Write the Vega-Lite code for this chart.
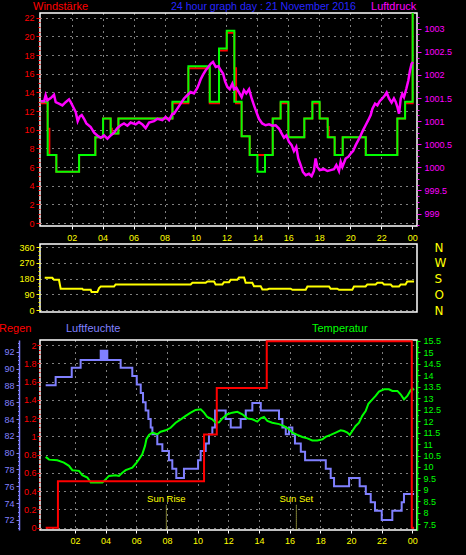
{
  "$schema": "https://vega.github.io/schema/vega-lite/v6.json",
  "background": "black",
  "autosize": {"type": "pad"},
  "padding": {"left": -2, "top": 0, "right": 15, "bottom": 10},
  "spacing": 1,
  "config": {
    "view": {"stroke": "#ffffff", "strokeWidth": 1.5, "fill": "black"},
    "axis": {"labelFont": "Liberation Sans", "labelFontSize": 9, "labelFlush": false, "domain": false},
    "text": {"font": "Liberation Sans"}
  },
  "datasets": {
    "wind": [
      {"h": 0, "kmh": 12.85}, {"h": 0.45, "kmh": 10.1}, {"h": 0.56, "kmh": 7.3}, {"h": 1.01, "kmh": 5.5}, {"h": 2.48, "kmh": 7.3},
      {"h": 3.53, "kmh": 9.2}, {"h": 4.03, "kmh": 11.2}, {"h": 4.52, "kmh": 10.1}, {"h": 4.6, "kmh": 9.6}, {"h": 5.02, "kmh": 11.2},
      {"h": 8.51, "kmh": 12.85}, {"h": 9.54, "kmh": 16.6}, {"h": 10.92, "kmh": 12.85}, {"h": 11.52, "kmh": 18.5}, {"h": 12.02, "kmh": 20.4},
      {"h": 12.51, "kmh": 16.6}, {"h": 12.62, "kmh": 12.85}, {"h": 12.98, "kmh": 9.3}, {"h": 13.5, "kmh": 7.3}, {"h": 14.99, "kmh": 11.2},
      {"h": 15.5, "kmh": 12.85}, {"h": 16.0, "kmh": 9.2}, {"h": 17.03, "kmh": 11.2}, {"h": 17.55, "kmh": 12.85}, {"h": 18.02, "kmh": 11.2},
      {"h": 18.54, "kmh": 10.3}, {"h": 18.6, "kmh": 9.2}, {"h": 18.99, "kmh": 7.3}, {"h": 19.51, "kmh": 9.2}, {"h": 21.0, "kmh": 7.3},
      {"h": 23.04, "kmh": 11.2}, {"h": 23.54, "kmh": 12.85}, {"h": 24.03, "kmh": 23.0}, {"h": 24.31, "kmh": 23.0}
    ],
    "gust": [
      {"h": 0, "kmh": 13.0}, {"h": 0.45, "kmh": 7.3}, {"h": 1.01, "kmh": 5.5}, {"h": 2.48, "kmh": 7.3}, {"h": 3.53, "kmh": 9.2},
      {"h": 4.03, "kmh": 11.2}, {"h": 4.52, "kmh": 9.6}, {"h": 5.02, "kmh": 11.2}, {"h": 8.51, "kmh": 13.0}, {"h": 9.54, "kmh": 16.8},
      {"h": 10.92, "kmh": 13.0}, {"h": 11.52, "kmh": 18.7}, {"h": 12.02, "kmh": 20.6}, {"h": 12.51, "kmh": 13.0}, {"h": 12.98, "kmh": 9.3},
      {"h": 13.5, "kmh": 7.3}, {"h": 14.0, "kmh": 5.5}, {"h": 14.49, "kmh": 7.3}, {"h": 14.99, "kmh": 11.2}, {"h": 15.5, "kmh": 13.0},
      {"h": 16.0, "kmh": 9.2}, {"h": 17.03, "kmh": 11.2}, {"h": 17.55, "kmh": 13.0}, {"h": 18.02, "kmh": 11.2}, {"h": 18.54, "kmh": 9.2},
      {"h": 18.99, "kmh": 7.3}, {"h": 19.51, "kmh": 9.2}, {"h": 21.0, "kmh": 7.3}, {"h": 23.04, "kmh": 11.2}, {"h": 23.54, "kmh": 13.0},
      {"h": 24.03, "kmh": 23.0}, {"h": 24.31, "kmh": 23.0}
    ],
    "pressure": [
      {"h": 0.0, "hpa": 1001.43}, {"h": 0.22, "hpa": 1001.43}, {"h": 0.32, "hpa": 1001.56}, {"h": 0.43, "hpa": 1001.45}, {"h": 0.65, "hpa": 1001.5},
      {"h": 0.86, "hpa": 1001.57}, {"h": 0.97, "hpa": 1001.41}, {"h": 1.18, "hpa": 1001.38}, {"h": 1.4, "hpa": 1001.34}, {"h": 1.61, "hpa": 1001.41},
      {"h": 1.83, "hpa": 1001.47}, {"h": 1.94, "hpa": 1001.41}, {"h": 2.09, "hpa": 1001.31}, {"h": 2.26, "hpa": 1001.2}, {"h": 2.39, "hpa": 1001.0},
      {"h": 2.52, "hpa": 1001.1}, {"h": 2.65, "hpa": 1001.13}, {"h": 2.8, "hpa": 1001.05}, {"h": 2.95, "hpa": 1000.95}, {"h": 3.23, "hpa": 1000.87},
      {"h": 3.45, "hpa": 1000.75}, {"h": 3.66, "hpa": 1000.69}, {"h": 3.88, "hpa": 1000.64}, {"h": 4.09, "hpa": 1000.69}, {"h": 4.31, "hpa": 1000.62},
      {"h": 4.52, "hpa": 1000.69}, {"h": 4.74, "hpa": 1000.75}, {"h": 4.95, "hpa": 1000.85}, {"h": 5.17, "hpa": 1000.91}, {"h": 5.38, "hpa": 1000.95},
      {"h": 5.6, "hpa": 1000.9}, {"h": 5.81, "hpa": 1000.97}, {"h": 6.14, "hpa": 1000.93}, {"h": 6.35, "hpa": 1000.98}, {"h": 6.57, "hpa": 1000.93},
      {"h": 6.78, "hpa": 1000.85}, {"h": 7.0, "hpa": 1000.97}, {"h": 7.32, "hpa": 1001.0}, {"h": 7.54, "hpa": 1001.05}, {"h": 7.86, "hpa": 1001.02},
      {"h": 8.07, "hpa": 1001.09}, {"h": 8.29, "hpa": 1001.02}, {"h": 8.51, "hpa": 1001.16}, {"h": 8.61, "hpa": 1001.16}, {"h": 8.83, "hpa": 1001.27},
      {"h": 9.04, "hpa": 1001.38}, {"h": 9.26, "hpa": 1001.49}, {"h": 9.47, "hpa": 1001.56}, {"h": 9.69, "hpa": 1001.63}, {"h": 9.9, "hpa": 1001.6},
      {"h": 10.12, "hpa": 1001.72}, {"h": 10.23, "hpa": 1001.81}, {"h": 10.33, "hpa": 1001.9}, {"h": 10.48, "hpa": 1002.0}, {"h": 10.66, "hpa": 1002.1},
      {"h": 10.83, "hpa": 1002.17}, {"h": 10.98, "hpa": 1002.24}, {"h": 11.13, "hpa": 1002.28}, {"h": 11.31, "hpa": 1002.17}, {"h": 11.48, "hpa": 1002.19},
      {"h": 11.63, "hpa": 1002.1}, {"h": 11.78, "hpa": 1002.03}, {"h": 11.91, "hpa": 1001.86}, {"h": 12.06, "hpa": 1001.74}, {"h": 12.21, "hpa": 1001.69},
      {"h": 12.38, "hpa": 1001.81}, {"h": 12.49, "hpa": 1001.69}, {"h": 12.64, "hpa": 1001.72}, {"h": 12.81, "hpa": 1001.62}, {"h": 12.98, "hpa": 1001.52},
      {"h": 13.13, "hpa": 1001.67}, {"h": 13.28, "hpa": 1001.6}, {"h": 13.46, "hpa": 1001.69}, {"h": 13.63, "hpa": 1001.49}, {"h": 13.78, "hpa": 1001.34},
      {"h": 13.93, "hpa": 1001.2}, {"h": 14.1, "hpa": 1001.05}, {"h": 14.31, "hpa": 1000.95}, {"h": 14.53, "hpa": 1000.91}, {"h": 14.75, "hpa": 1000.93},
      {"h": 14.96, "hpa": 1000.9}, {"h": 15.18, "hpa": 1000.91}, {"h": 15.39, "hpa": 1000.84}, {"h": 15.57, "hpa": 1000.73}, {"h": 15.72, "hpa": 1000.64},
      {"h": 15.87, "hpa": 1000.69}, {"h": 16.04, "hpa": 1000.55}, {"h": 16.21, "hpa": 1000.48}, {"h": 16.36, "hpa": 1000.35}, {"h": 16.51, "hpa": 1000.44},
      {"h": 16.64, "hpa": 1000.19}, {"h": 16.79, "hpa": 1000.05}, {"h": 16.94, "hpa": 999.9}, {"h": 17.12, "hpa": 999.83}, {"h": 17.33, "hpa": 999.86},
      {"h": 17.5, "hpa": 999.81}, {"h": 17.65, "hpa": 999.92}, {"h": 17.76, "hpa": 1000.19}, {"h": 17.87, "hpa": 1000.01}, {"h": 18.02, "hpa": 999.94},
      {"h": 18.3, "hpa": 999.96}, {"h": 18.52, "hpa": 999.92}, {"h": 18.73, "hpa": 999.94}, {"h": 18.95, "hpa": 999.96}, {"h": 19.1, "hpa": 1000.05},
      {"h": 19.27, "hpa": 999.92}, {"h": 19.38, "hpa": 1000.12}, {"h": 19.49, "hpa": 1000.01}, {"h": 19.7, "hpa": 1000.19}, {"h": 19.88, "hpa": 1000.23},
      {"h": 20.03, "hpa": 1000.3}, {"h": 20.18, "hpa": 1000.35}, {"h": 20.35, "hpa": 1000.48}, {"h": 20.52, "hpa": 1000.59}, {"h": 20.67, "hpa": 1000.69},
      {"h": 20.82, "hpa": 1000.8}, {"h": 20.99, "hpa": 1000.91}, {"h": 21.16, "hpa": 1001.02}, {"h": 21.32, "hpa": 1001.13}, {"h": 21.43, "hpa": 1001.27},
      {"h": 21.6, "hpa": 1001.38}, {"h": 21.75, "hpa": 1001.34}, {"h": 21.9, "hpa": 1001.43}, {"h": 22.07, "hpa": 1001.49}, {"h": 22.24, "hpa": 1001.56},
      {"h": 22.35, "hpa": 1001.62}, {"h": 22.5, "hpa": 1001.49}, {"h": 22.67, "hpa": 1001.4}, {"h": 22.82, "hpa": 1001.49}, {"h": 22.93, "hpa": 1001.42},
      {"h": 23.04, "hpa": 1001.31}, {"h": 23.15, "hpa": 1001.16}, {"h": 23.26, "hpa": 1001.49}, {"h": 23.36, "hpa": 1001.59}, {"h": 23.47, "hpa": 1001.52},
      {"h": 23.62, "hpa": 1001.7}, {"h": 23.75, "hpa": 1001.88}, {"h": 23.86, "hpa": 1002.1}, {"h": 23.96, "hpa": 1002.24}, {"h": 24.05, "hpa": 1002.28}
    ],
    "direction": [
      {"h": 0.26, "deg": 185}, {"h": 0.75, "deg": 185}, {"h": 0.86, "deg": 173}, {"h": 1.18, "deg": 173}, {"h": 1.29, "deg": 122},
      {"h": 2.69, "deg": 122}, {"h": 2.75, "deg": 116}, {"h": 3.23, "deg": 116}, {"h": 3.29, "deg": 103}, {"h": 3.66, "deg": 103},
      {"h": 3.77, "deg": 126}, {"h": 3.88, "deg": 135}, {"h": 4.74, "deg": 135}, {"h": 4.84, "deg": 147}, {"h": 9.69, "deg": 147},
      {"h": 9.8, "deg": 156}, {"h": 10.66, "deg": 156}, {"h": 10.77, "deg": 164}, {"h": 11.2, "deg": 164}, {"h": 11.3, "deg": 147},
      {"h": 11.74, "deg": 147}, {"h": 11.84, "deg": 160}, {"h": 12.17, "deg": 160}, {"h": 12.27, "deg": 173}, {"h": 12.7, "deg": 173},
      {"h": 12.81, "deg": 187}, {"h": 13.14, "deg": 187}, {"h": 13.24, "deg": 156}, {"h": 13.67, "deg": 156}, {"h": 13.78, "deg": 137},
      {"h": 14.21, "deg": 137}, {"h": 14.32, "deg": 118}, {"h": 14.64, "deg": 118}, {"h": 14.75, "deg": 122}, {"h": 16.15, "deg": 122},
      {"h": 16.26, "deg": 116}, {"h": 17.12, "deg": 116}, {"h": 17.23, "deg": 135}, {"h": 18.63, "deg": 135}, {"h": 18.73, "deg": 122},
      {"h": 19.16, "deg": 122}, {"h": 19.27, "deg": 116}, {"h": 20.13, "deg": 116}, {"h": 20.24, "deg": 135}, {"h": 20.99, "deg": 135},
      {"h": 21.1, "deg": 147}, {"h": 21.64, "deg": 147}, {"h": 21.75, "deg": 156}, {"h": 22.07, "deg": 156}, {"h": 22.18, "deg": 147},
      {"h": 22.61, "deg": 147}, {"h": 22.72, "deg": 135}, {"h": 23.15, "deg": 135}, {"h": 23.26, "deg": 147}, {"h": 23.57, "deg": 147},
      {"h": 23.68, "deg": 164}, {"h": 24.12, "deg": 164}
    ],
    "rain": [
      {"h": 0.09, "mm": 0}, {"h": 0.89, "mm": 0.51}, {"h": 10.42, "mm": 1.02}, {"h": 11.25, "mm": 1.53}, {"h": 14.51, "mm": 2.04},
      {"h": 23.97, "mm": 0}, {"h": 24.12, "mm": 0}
    ],
    "humidity": [
      {"h": 0.09, "rh": 88.0}, {"h": 0.74, "rh": 89.0}, {"h": 1.79, "rh": 90.1}, {"h": 2.37, "rh": 91.0}, {"h": 3.68, "rh": 92.1},
      {"h": 3.75, "rh": 91.0}, {"h": 3.8, "rh": 92.1}, {"h": 3.87, "rh": 91.0}, {"h": 3.93, "rh": 92.1}, {"h": 4.0, "rh": 91.0},
      {"h": 4.05, "rh": 92.1}, {"h": 4.11, "rh": 91.0}, {"h": 4.98, "rh": 90.1}, {"h": 5.74, "rh": 89.1}, {"h": 6.03, "rh": 88.1},
      {"h": 6.29, "rh": 87.1}, {"h": 6.44, "rh": 86.0}, {"h": 6.61, "rh": 85.0}, {"h": 6.79, "rh": 84.0}, {"h": 6.94, "rh": 83.0},
      {"h": 7.05, "rh": 82.2}, {"h": 7.37, "rh": 81.0}, {"h": 7.7, "rh": 80.2}, {"h": 8.13, "rh": 79.1}, {"h": 8.35, "rh": 78.1},
      {"h": 8.61, "rh": 77.0}, {"h": 9.11, "rh": 78.1}, {"h": 10.03, "rh": 79.1}, {"h": 10.2, "rh": 80.2}, {"h": 10.53, "rh": 81.1},
      {"h": 10.74, "rh": 82.2}, {"h": 10.96, "rh": 83.0}, {"h": 11.14, "rh": 85.0}, {"h": 11.83, "rh": 84.0}, {"h": 12.16, "rh": 83.0},
      {"h": 12.81, "rh": 84.0}, {"h": 13.14, "rh": 85.0}, {"h": 13.57, "rh": 85.9}, {"h": 14.12, "rh": 85.0}, {"h": 15.31, "rh": 84.0},
      {"h": 15.53, "rh": 83.0}, {"h": 15.75, "rh": 82.2}, {"h": 15.96, "rh": 83.0}, {"h": 16.18, "rh": 82.2}, {"h": 16.35, "rh": 81.1},
      {"h": 16.73, "rh": 80.1}, {"h": 17.01, "rh": 79.1}, {"h": 18.36, "rh": 78.1}, {"h": 18.68, "rh": 77.0}, {"h": 18.9, "rh": 76.0},
      {"h": 19.88, "rh": 77.0}, {"h": 20.57, "rh": 76.0}, {"h": 20.97, "rh": 75.1}, {"h": 21.29, "rh": 74.1}, {"h": 21.57, "rh": 73.1},
      {"h": 22.01, "rh": 72.0}, {"h": 22.7, "rh": 73.1}, {"h": 23.31, "rh": 74.1}, {"h": 23.46, "rh": 75.1}, {"h": 24.12, "rh": 75.1}
    ],
    "temperature": [
      {"h": 0.09, "c": 10.44}, {"h": 0.31, "c": 10.32}, {"h": 0.85, "c": 10.29}, {"h": 1.28, "c": 10.19}, {"h": 1.61, "c": 10.05},
      {"h": 1.83, "c": 9.86}, {"h": 2.26, "c": 9.83}, {"h": 2.48, "c": 9.64}, {"h": 2.81, "c": 9.54}, {"h": 3.03, "c": 9.32},
      {"h": 3.35, "c": 9.32}, {"h": 3.79, "c": 9.32}, {"h": 4.0, "c": 9.46}, {"h": 4.22, "c": 9.61}, {"h": 4.65, "c": 9.64},
      {"h": 4.87, "c": 9.61}, {"h": 5.09, "c": 9.75}, {"h": 5.31, "c": 9.86}, {"h": 5.74, "c": 9.97}, {"h": 5.96, "c": 10.14},
      {"h": 6.18, "c": 10.34}, {"h": 6.39, "c": 10.55}, {"h": 6.57, "c": 10.92}, {"h": 6.66, "c": 11.21}, {"h": 6.83, "c": 11.4},
      {"h": 7.05, "c": 11.5}, {"h": 7.37, "c": 11.43}, {"h": 7.59, "c": 11.54}, {"h": 7.92, "c": 11.6}, {"h": 8.24, "c": 11.71},
      {"h": 8.57, "c": 11.93}, {"h": 8.9, "c": 12.08}, {"h": 9.22, "c": 12.23}, {"h": 9.55, "c": 12.37}, {"h": 9.87, "c": 12.49},
      {"h": 10.2, "c": 12.52}, {"h": 10.42, "c": 12.37}, {"h": 10.63, "c": 12.18}, {"h": 10.96, "c": 12.08}, {"h": 11.18, "c": 11.93},
      {"h": 11.4, "c": 11.95}, {"h": 11.61, "c": 12.12}, {"h": 11.94, "c": 12.3}, {"h": 12.26, "c": 12.37}, {"h": 12.59, "c": 12.41},
      {"h": 12.92, "c": 12.3}, {"h": 13.24, "c": 12.12}, {"h": 13.57, "c": 12.08}, {"h": 13.9, "c": 11.98}, {"h": 14.11, "c": 12.12},
      {"h": 14.33, "c": 12.18}, {"h": 14.55, "c": 12.01}, {"h": 14.87, "c": 11.93}, {"h": 15.31, "c": 11.87}, {"h": 15.64, "c": 11.78},
      {"h": 15.96, "c": 11.65}, {"h": 16.18, "c": 11.5}, {"h": 16.51, "c": 11.4}, {"h": 16.83, "c": 11.31}, {"h": 17.16, "c": 11.25},
      {"h": 17.48, "c": 11.16}, {"h": 17.81, "c": 11.16}, {"h": 18.14, "c": 11.21}, {"h": 18.35, "c": 11.31}, {"h": 18.68, "c": 11.4},
      {"h": 19.01, "c": 11.5}, {"h": 19.33, "c": 11.6}, {"h": 19.55, "c": 11.57}, {"h": 19.77, "c": 11.5}, {"h": 19.92, "c": 11.4},
      {"h": 20.09, "c": 11.57}, {"h": 20.31, "c": 11.79}, {"h": 20.53, "c": 11.93}, {"h": 20.74, "c": 12.23}, {"h": 20.96, "c": 12.44},
      {"h": 21.14, "c": 12.76}, {"h": 21.4, "c": 12.95}, {"h": 21.61, "c": 13.1}, {"h": 21.83, "c": 13.29}, {"h": 22.16, "c": 13.39},
      {"h": 22.48, "c": 13.39}, {"h": 22.7, "c": 13.32}, {"h": 23.03, "c": 13.32}, {"h": 23.24, "c": 13.17}, {"h": 23.46, "c": 12.95},
      {"h": 23.68, "c": 13.1}, {"h": 23.9, "c": 13.35}, {"h": 24.01, "c": 13.43}, {"h": 24.11, "c": 13.35}
    ],
    "sun": [
      {"event": "Sun Rise", "h": 7.96},
      {"event": "Sun Set", "h": 16.44}
    ]
  },
  "vconcat": [
    {
      "width": 377,
      "height": 213,
      "layer": [
        {
          "layer": [
            {
              "data": {"name": "wind"},
              "mark": {"type": "line", "interpolate": "step-after", "color": "#ff0000", "strokeWidth": 2, "clip": true},
              "encoding": {
                "x": {
                  "field": "h", "type": "quantitative",
                  "scale": {"domain": [-0.045, 24.31], "nice": false, "zero": false},
                  "axis": {
                    "orient": "bottom", "title": null, "values": [2, 4, 6, 8, 10, 12, 14, 16, 18, 20, 22, 24], "tickCount": 1000,
                    "labels": false, "ticks": true, "tickSize": 3, "tickColor": "#ffffff", "labelOverlap": false,
                    "grid": true, "gridColor": "#ffffff", "gridDash": [1, 5],
                    "gridOpacity": {"condition": {"test": "datum.value > 23", "value": 0}, "value": 1}
                  }
                },
                "y": {
                  "field": "kmh", "type": "quantitative",
                  "scale": {"domain": [-0.32, 22.51], "nice": false, "zero": false},
                  "axis": {
                    "orient": "left", "title": null, "labelOverlap": false, "tickCount": 1000,
                    "values": [0,0.5,1,1.5,2,2.5,3,3.5,4,4.5,5,5.5,6,6.5,7,7.5,8,8.5,9,9.5,10,10.5,11,11.5,12,12.5,13,13.5,14,14.5,15,15.5,16,16.5,17,17.5,18,18.5,19,19.5,20,20.5,21,21.5,22],
                    "labelExpr": "datum.value % 2 === 0 ? format(datum.value, 'd') : ''",
                    "labelColor": "#ff0000", "tickColor": "#ff0000", "labelPadding": 2,
                    "tickSize": {"condition": {"test": "datum.value % 2 === 0", "value": 4}, "value": 2},
                    "grid": true, "gridColor": "#ffffff", "gridDash": [1, 5],
                    "gridOpacity": {"condition": {"test": "datum.value % 2 === 0", "value": 1}, "value": 0}
                  }
                }
              }
            },
            {
              "data": {"name": "gust"},
              "mark": {"type": "line", "interpolate": "step-after", "color": "#00ff00", "strokeWidth": 2, "clip": true},
              "encoding": {
                "x": {"field": "h", "type": "quantitative"},
                "y": {"field": "kmh", "type": "quantitative"}
              }
            },
            {
              "data": {"values": [{}]},
              "mark": {"type": "text", "text": "Windstärke", "align": "left", "baseline": "middle", "color": "#ff0000", "fontSize": 11},
              "encoding": {"x": {"datum": -0.497}, "y": {"datum": 23.1}}
            },
            {
              "data": {"values": [{}]},
              "mark": {"type": "text", "text": "24 hour graph day : 21 November 2016", "align": "center", "baseline": "middle", "color": "#2626ff", "fontSize": 10.6},
              "encoding": {"x": {"datum": 14.39}, "y": {"datum": 23.1}}
            },
            {
              "data": {"values": [{}]},
              "mark": {"type": "text", "text": "Luftdruck", "align": "left", "baseline": "middle", "color": "#ff00ff", "fontSize": 11},
              "encoding": {"x": {"datum": 21.34}, "y": {"datum": 23.1}}
            }
          ]
        },
        {
          "data": {"name": "pressure"},
          "mark": {"type": "line", "color": "#ff00ff", "strokeWidth": 2.5, "clip": true},
          "encoding": {
            "x": {"field": "h", "type": "quantitative"},
            "y": {
              "field": "hpa", "type": "quantitative",
              "scale": {"domain": [998.73, 1003.34], "nice": false, "zero": false},
              "axis": {
                "orient": "right", "title": null, "labelOverlap": false, "tickCount": 1000,
                "values": [998.75,998.875,999,999.125,999.25,999.375,999.5,999.625,999.75,999.875,1000,1000.125,1000.25,1000.375,1000.5,1000.625,1000.75,1000.875,1001,1001.125,1001.25,1001.375,1001.5,1001.625,1001.75,1001.875,1002,1002.125,1002.25,1002.375,1002.5,1002.625,1002.75,1002.875,1003,1003.125,1003.25],
                "labelExpr": "datum.value * 2 % 1 === 0 ? format(datum.value, '~g') : ''",
                "labelColor": "#ff00ff", "tickColor": "#ff00ff", "labelPadding": 3,
                "tickSize": {"condition": {"test": "datum.value * 2 % 1 === 0", "value": 4}, "value": 2},
                "grid": false
              }
            }
          }
        }
      ],
      "resolve": {"scale": {"y": "independent"}, "axis": {"y": "independent"}}
    },
    {
      "width": 377,
      "height": 68,
      "layer": [
        {
          "data": {"name": "direction"},
          "mark": {"type": "line", "color": "#ffff00", "strokeWidth": 2, "clip": true},
          "encoding": {
            "x": {
              "field": "h", "type": "quantitative",
              "scale": {"domain": [-0.045, 24.31], "nice": false, "zero": false},
              "axis": {
                "orient": "top", "title": null, "values": [2, 4, 6, 8, 10, 12, 14, 16, 18, 20, 22, 24], "labelOverlap": false, "tickCount": 1000,
                "labelExpr": "datum.value == 24 ? '00' : (datum.value < 10 ? '0' + datum.value : '' + datum.value)",
                "labelColor": "#ffff00", "ticks": false, "tickSize": 0, "labelPadding": 2, "grid": false
              }
            },
            "y": {
              "field": "deg", "type": "quantitative",
              "scale": {"domain": [-11.4, 378.9], "nice": false, "zero": false},
              "axis": {
                "orient": "left", "title": null, "labelOverlap": false, "tickCount": 1000,
                "values": [0,22.5,45,67.5,90,112.5,135,157.5,180,202.5,225,247.5,270,292.5,315,337.5,360],
                "labelExpr": "datum.value % 90 === 0 ? format(datum.value, 'd') : ''",
                "labelColor": "#ffff00", "tickColor": "#ffff00", "labelPadding": 2,
                "tickSize": {"condition": {"test": "datum.value % 90 === 0", "value": 4}, "value": 2},
                "grid": true, "gridColor": "#ffffff", "gridDash": [1, 5],
                "gridOpacity": {"condition": {"test": "datum.value % 90 === 0", "value": 1}, "value": 0}
              }
            }
          }
        },
        {
          "data": {"name": "direction"},
          "mark": {"type": "line", "strokeOpacity": 0, "clip": true},
          "encoding": {
            "x": {"field": "h", "type": "quantitative"},
            "y": {
              "field": "deg", "type": "quantitative",
              "axis": {
                "orient": "right", "title": null, "values": [0, 90, 180, 270, 360], "labelOverlap": false, "tickCount": 1000,
                "labelExpr": "datum.value == 0 ? 'N' : datum.value == 90 ? 'O' : datum.value == 180 ? 'S' : datum.value == 270 ? 'W' : 'N'",
                "labelColor": "#ffff00", "labelFontSize": 12, "labelFont": "DejaVu Sans", "ticks": false, "tickSize": 0, "labelPadding": 17, "grid": false
              }
            }
          }
        },
        {
          "data": {"values": [{}]},
          "mark": {"type": "text", "text": "Regen", "align": "left", "baseline": "middle", "color": "#ff0000", "fontSize": 11},
          "encoding": {"x": {"datum": -2.69}, "y": {"datum": -109, "axis": null}}
        },
        {
          "data": {"values": [{}]},
          "mark": {"type": "text", "text": "Luftfeuchte", "align": "left", "baseline": "middle", "color": "#8080ff", "fontSize": 11},
          "encoding": {"x": {"datum": 1.635}, "y": {"datum": -109, "axis": null}}
        },
        {
          "data": {"values": [{}]},
          "mark": {"type": "text", "text": "Temperatur", "align": "left", "baseline": "middle", "color": "#00ff00", "fontSize": 11},
          "encoding": {"x": {"datum": 17.526}, "y": {"datum": -109, "axis": null}}
        }
      ],
      "resolve": {"axis": {"y": "independent"}}
    },
    {
      "width": 377,
      "height": 190,
      "layer": [
        {
          "data": {"name": "humidity"},
          "mark": {"type": "line", "interpolate": "step-after", "color": "#8080ff", "strokeWidth": 2, "clip": true},
          "encoding": {
            "x": {
              "field": "h", "type": "quantitative",
              "scale": {"domain": [-0.28, 24.31], "nice": false, "zero": false},
              "axis": {
                "orient": "bottom", "title": null, "values": [2, 4, 6, 8, 10, 12, 14, 16, 18, 20, 22, 24], "labelOverlap": false, "tickCount": 1000,
                "labelExpr": "datum.value == 24 ? '00' : (datum.value < 10 ? '0' + datum.value : '' + datum.value)",
                "labelColor": "#ffff00", "tickColor": "#ffffff", "tickSize": 3, "labelPadding": 3,
                "grid": true, "gridColor": "#ffffff", "gridDash": [1, 5],
                "gridOpacity": {"condition": {"test": "datum.value > 23", "value": 0}, "value": 1}
              }
            },
            "y": {
              "field": "rh", "type": "quantitative",
              "scale": {"domain": [70.81, 93.39], "nice": false, "zero": false},
              "axis": {
                "orient": "left", "title": null, "offset": 21, "labelOverlap": false, "tickCount": 1000,
                "values": [71,71.5,72,72.5,73,73.5,74,74.5,75,75.5,76,76.5,77,77.5,78,78.5,79,79.5,80,80.5,81,81.5,82,82.5,83,83.5,84,84.5,85,85.5,86,86.5,87,87.5,88,88.5,89,89.5,90,90.5,91,91.5,92,92.5,93],
                "labelExpr": "datum.value % 2 === 0 ? format(datum.value, 'd') : ''",
                "labelColor": "#8080ff", "tickColor": "#8080ff", "labelPadding": 2,
                "tickSize": {"condition": {"test": "datum.value % 2 === 0", "value": 3}, "value": 1.5},
                "domain": true, "domainColor": "#8080ff", "domainWidth": 1.5, "grid": false
              }
            }
          }
        },
        {
          "data": {"name": "temperature"},
          "mark": {"type": "line", "color": "#00ff00", "strokeWidth": 2, "clip": true},
          "encoding": {
            "x": {"field": "h", "type": "quantitative"},
            "y": {
              "field": "c", "type": "quantitative",
              "scale": {"domain": [7.25, 15.54], "nice": false, "zero": false},
              "axis": {
                "orient": "right", "title": null, "labelOverlap": false, "tickCount": 1000,
                "values": [7.5,7.75,8,8.25,8.5,8.75,9,9.25,9.5,9.75,10,10.25,10.5,10.75,11,11.25,11.5,11.75,12,12.25,12.5,12.75,13,13.25,13.5,13.75,14,14.25,14.5,14.75,15,15.25,15.5],
                "labelExpr": "datum.value * 2 % 1 === 0 ? format(datum.value, '~g') : ''",
                "labelColor": "#00ff00", "tickColor": "#00ff00", "labelPadding": 3,
                "tickSize": {"condition": {"test": "datum.value * 2 % 1 === 0", "value": 3}, "value": 1.5},
                "domain": true, "domainColor": "#00ff00", "domainWidth": 1.5, "grid": false
              }
            }
          }
        },
        {
          "layer": [
            {
              "data": {"name": "rain"},
              "mark": {"type": "line", "interpolate": "step-after", "color": "#ff0000", "strokeWidth": 2, "clip": true},
              "encoding": {
                "x": {"field": "h", "type": "quantitative"},
                "y": {
                  "field": "mm", "type": "quantitative",
                  "scale": {"domain": [-0.025, 2.055], "nice": false, "zero": false},
                  "axis": {
                    "orient": "left", "title": null, "labelOverlap": false, "tickCount": 1000,
                    "values": [0,0.05,0.1,0.15,0.2,0.25,0.3,0.35,0.4,0.45,0.5,0.55,0.6,0.65,0.7,0.75,0.8,0.85,0.9,0.95,1,1.05,1.1,1.15,1.2,1.25,1.3,1.35,1.4,1.45,1.5,1.55,1.6,1.65,1.7,1.75,1.8,1.85,1.9,1.95,2],
                    "labelExpr": "round(datum.value * 100) % 20 === 0 ? format(datum.value, '~g') : ''",
                    "labelColor": "#ff0000", "tickColor": "#ff0000", "labelPadding": 1,
                    "tickSize": {"condition": {"test": "round(datum.value * 100) % 20 === 0", "value": 3}, "value": 1.5},
                    "grid": true, "gridColor": "#ffffff", "gridDash": [1, 5],
                    "gridOpacity": {"condition": {"test": "round(datum.value * 100) % 20 === 0", "value": 1}, "value": 0}
                  }
                }
              }
            },
            {
              "data": {"name": "sun"},
              "mark": {"type": "rule", "color": "#ffff66", "strokeWidth": 1, "strokeDash": [1, 1]},
              "encoding": {
                "x": {"field": "h", "type": "quantitative"},
                "y": {"datum": -0.02},
                "y2": {"datum": 0.25}
              }
            },
            {
              "data": {"name": "sun"},
              "mark": {"type": "text", "color": "#ffff00", "fontSize": 9.5, "align": "center", "baseline": "middle"},
              "encoding": {
                "x": {"field": "h", "type": "quantitative"},
                "y": {"datum": 0.317},
                "text": {"field": "event"}
              }
            }
          ]
        }
      ],
      "resolve": {"scale": {"y": "independent"}, "axis": {"y": "independent"}}
    }
  ]
}
